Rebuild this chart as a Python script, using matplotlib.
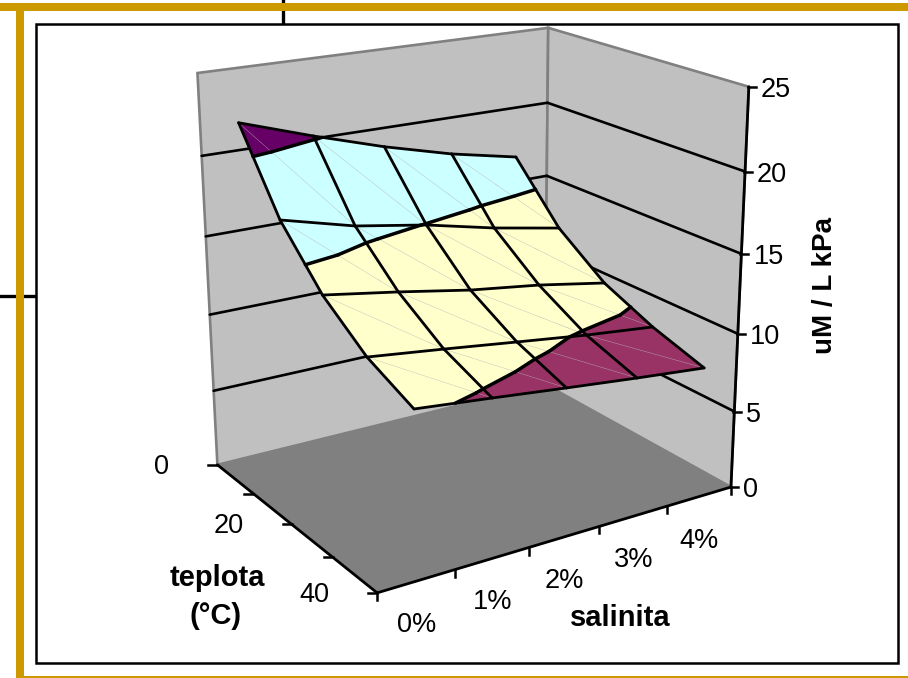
#!/usr/bin/env python3
"""Surface chart of uM / L kPa against temperature and salinity, drawn with a fitted camera."""
import matplotlib
matplotlib.use("Agg")
import matplotlib.pyplot as plt
import numpy as np
from matplotlib.patches import Polygon

plt.rcParams["font.family"] = ["Liberation Sans", "DejaVu Sans"]

# data
temperatures = [0, 10, 20, 30, 40]
temperature_labels = {0: "0", 20: "20", 40: "40"}
salinity_labels = ["0%", "1%", "2%", "3%", "4%"]
value_ticks = [0, 5, 10, 15, 20, 25]
surface_z = np.array([
    [21.68, 20.17, 18.78, 17.59, 16.66],
    [16.91, 15.71, 14.94, 13.91, 13.07],
    [13.74, 12.99, 12.17, 11.56, 10.77],
    [11.59, 11.03, 10.44, 9.86, 9.38],
    [10.25, 9.77, 9.27, 8.79, 8.35],
])
band_edges = [5, 10, 15, 20, 25]
band_colors = ["#993366", "#FFFFCC", "#CCFFFF", "#660066"]

# camera: (temperature, salinity position, value, 1) -> pixel, fitted on the box corners
CAMERA = np.array([
    [2.7506057, 77.27192, -1.3339912, 217.40514],
    [1.2471729, -7.820401, -15.87064, 464.82087],
    [-0.0032954791, 0.021666315, -0.0027149955, 1.0],
])
T_MIN, T_MAX = temperatures[0], temperatures[-1]
S_MAX = len(salinity_labels)
Z_MAX = value_ticks[-1]
GOLD = "#CC9900"


def project(points):
    """Project (t, s, z) points to figure pixels."""
    pts = np.atleast_2d(np.asarray(points, dtype=float))
    hom = np.column_stack([pts, np.ones(len(pts))]) @ CAMERA.T
    return hom[:, :2] / hom[:, 2:3]


def line3d(ax, start, end, **kwargs):
    xy = project([start, end])
    ax.plot(xy[:, 0], xy[:, 1], solid_capstyle="round", **kwargs)


def clip_polygon(poly, level, keep_above):
    """Sutherland-Hodgman clip of a 3D polygon against z = level."""
    out = []
    for a, b in zip(poly, poly[1:] + poly[:1]):
        a_in = a[2] >= level if keep_above else a[2] <= level
        b_in = b[2] >= level if keep_above else b[2] <= level
        if a_in:
            out.append(a)
        if a_in != b_in:
            f = (level - a[2]) / (b[2] - a[2])
            out.append(tuple(a[k] + f * (b[k] - a[k]) for k in range(3)))
    return out


def level_segment(tri, level):
    """Piece of the contour line at level inside one triangle."""
    pts = []
    for a, b in zip(tri, tri[1:] + tri[:1]):
        if (a[2] - level) * (b[2] - level) < 0:
            f = (level - a[2]) / (b[2] - a[2])
            pts.append(tuple(a[k] + f * (b[k] - a[k]) for k in range(3)))
    return pts if len(pts) == 2 else None


def draw_frame(ax):
    ax.plot([282.5, 282.5], [0, 24], color="black", lw=2.4, zorder=0)
    ax.plot([0, 36], [295.5, 295.5], color="black", lw=2.4, zorder=0)
    ax.add_patch(plt.Rectangle((36, 24), 862, 639, fc="white", ec="black", lw=1.8, zorder=0.5))
    ax.fill_between([0, 908], [3, 3], [11, 11], color=GOLD, lw=0, zorder=0.2)
    ax.fill_between([16, 24], [3, 3], [678, 678], color=GOLD, lw=0, zorder=0.2)
    ax.fill_between([16, 908], [676, 676], [678, 678], color=GOLD, lw=0, zorder=0.2)


def draw_box(ax):
    back = [(T_MIN, 0, 0), (T_MIN, S_MAX, 0), (T_MIN, S_MAX, Z_MAX), (T_MIN, 0, Z_MAX)]
    side = [(T_MIN, S_MAX, 0), (T_MAX, S_MAX, 0), (T_MAX, S_MAX, Z_MAX), (T_MIN, S_MAX, Z_MAX)]
    floor = [(T_MIN, 0, 0), (T_MAX, 0, 0), (T_MAX, S_MAX, 0), (T_MIN, S_MAX, 0)]
    for wall in (back, side):
        ax.add_patch(Polygon(project(wall), fc="#C0C0C0", ec="#808080", lw=1.9, zorder=1))
    ax.add_patch(Polygon(project(floor), fc="#808080", ec="#808080", lw=0.5, zorder=1.1))
    for z in value_ticks[1:-1]:
        line3d(ax, (T_MIN, 0, z), (T_MIN, S_MAX, z), color="black", lw=1.9, zorder=2)
        line3d(ax, (T_MIN, S_MAX, z), (T_MAX, S_MAX, z), color="black", lw=1.9, zorder=2)


def draw_surface(ax):
    rows, cols = surface_z.shape
    grid = [[(temperatures[i], j + 0.5, surface_z[i, j]) for j in range(cols)] for i in range(rows)]
    for i in range(rows - 1):
        for j in range(cols - 1):
            a, b, c, d = grid[i][j], grid[i][j + 1], grid[i + 1][j + 1], grid[i + 1][j]
            for tri in ([a, b, c], [a, c, d]):
                for lo, hi, color in zip(band_edges[:-1], band_edges[1:], band_colors):
                    poly = clip_polygon(tri, lo, True)
                    poly = clip_polygon(poly, hi, False) if poly else []
                    if len(poly) >= 3:
                        ax.add_patch(Polygon(project(poly), fc=color, ec=color, lw=0.3, zorder=3))
                for level in band_edges[1:-1]:
                    seg = level_segment(tri, level)
                    if seg:
                        line3d(ax, seg[0], seg[1], color="black", lw=2.5, zorder=3.6)
            line3d(ax, a, c, color="#B8B8B8", lw=0.25, zorder=3.1)
    for i in range(rows):
        for j in range(cols - 1):
            line3d(ax, grid[i][j], grid[i][j + 1], color="black", lw=2.0, zorder=3.5)
    for j in range(cols):
        for i in range(rows - 1):
            line3d(ax, grid[i][j], grid[i + 1][j], color="black", lw=2.0, zorder=3.5)


def draw_axes(ax):
    text_kw = dict(fontsize=19.5, color="black", zorder=5)
    line3d(ax, (T_MIN, 0, 0), (T_MAX, 0, 0), color="black", lw=2.0, zorder=4)
    line3d(ax, (T_MAX, 0, 0), (T_MAX, S_MAX, 0), color="black", lw=2.0, zorder=4)
    line3d(ax, (T_MAX, S_MAX, 0), (T_MAX, S_MAX, Z_MAX), color="black", lw=2.0, zorder=4)

    for z in value_ticks:
        x, y = project((T_MAX, S_MAX, z))[0]
        ax.plot([x - 1, x + 7], [y, y], color="black", lw=1.8, zorder=4)
        ax.text(x + 12, y, str(z), ha="left", va="center_baseline", **text_kw)

    for t in temperatures:
        x, y = project((t, 0, 0))[0]
        ax.plot([x - 9, x], [y, y], color="black", lw=1.8, zorder=4)
        if t in temperature_labels:
            ax.text(x - 48, y - 1, temperature_labels[t], ha="right", va="center_baseline", **text_kw)

    for s in range(S_MAX + 1):
        x, y = project((T_MAX, s, 0))[0]
        ax.plot([x, x], [y, y + 7], color="black", lw=1.8, zorder=4)
    for s, label in enumerate(salinity_labels):
        x, y = project((T_MAX, s + 0.5, 0))[0]
        ax.text(x, y + 41, label, ha="center", va="center_baseline", **text_kw)

    bold_kw = dict(fontsize=21, fontweight="bold", color="black", zorder=5, ha="center", va="center")
    ax.text(217, 578, "teplota", **bold_kw)
    ax.text(216, 616, "(°C)", **bold_kw)
    ax.text(620, 618, "salinita", **bold_kw)
    ax.text(825, 285, "uM / L kPa", rotation=90, **{**bold_kw, "fontsize": 20})


def main():
    fig = plt.figure(figsize=(9.08, 6.78), dpi=100)
    ax = fig.add_axes([0, 0, 1, 1])
    ax.set_xlim(0, 908)
    ax.set_ylim(678, 0)
    ax.axis("off")
    draw_frame(ax)
    draw_box(ax)
    draw_surface(ax)
    draw_axes(ax)
    fig.savefig("out.png", dpi=100)
    plt.close(fig)


if __name__ == "__main__":
    main()
